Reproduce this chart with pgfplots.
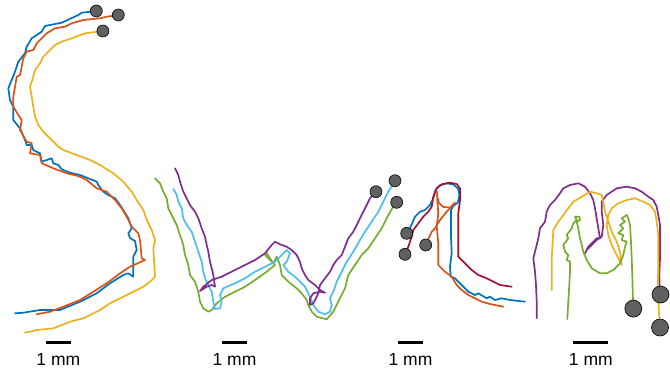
\documentclass[border=0pt]{standalone}
\usepackage{fontspec}
\setmainfont{Liberation Sans}
\usepackage{pgfplots}
\pgfplotsset{compat=1.18}
\definecolor{mblue}{HTML}{0072BD}
\definecolor{morange}{HTML}{D95319}
\definecolor{myellow}{HTML}{EDB120}
\definecolor{mpurple}{HTML}{7E2F8E}
\definecolor{mgreen}{HTML}{77AC30}
\definecolor{mcyan}{HTML}{4DBEEE}
\definecolor{mred}{HTML}{A2142F}
\definecolor{dotgray}{HTML}{606060}
\begin{document}
\begin{tikzpicture}
\begin{axis}[x=1pt, y=1pt, y dir=reverse, xmin=0, xmax=670, ymin=0, ymax=373,
  hide axis, clip=false, anchor=south west, at={(0,0)},
  every axis plot/.append style={line width=1.7pt, line join=round, line cap=round, mark=none}]
\path[draw=none] (rel axis cs:0,0) rectangle (rel axis cs:1,1);
% ---- S ----
\addplot[mblue] coordinates {(96.7,11)(81.7,12.7)(78.3,15)(61.7,22.7)(45,26)(41.7,31.7)(31.7,38.3)(26.7,46.7)(25,53.3)(18.3,61.7)(15,71.7)(11.7,80)(8.3,88.3)(10,100)(13.3,106.7)(13.3,120)(20,128.3)(25,140)(26.7,145)(31.7,145)(33.3,150)(40,153.3)(41.7,161.7)(51.7,158.3)(53.3,163.3)(58.3,165)(61.7,169.3)(70,172.7)(80,175)(88.3,178.3)(96.7,181.7)(98.3,185)(103.3,191.7)(108.3,195)(115,198.3)(120,205)(123.3,210)(128.3,218.3)(131.7,228.3)(128.3,233.3)(130,238)(135,241)(136.7,250)(133.3,256.7)(133.3,276.7)(128.3,273.3)(123.3,275)(110,283.3)(96.7,293.3)(80,301.7)(60,310)(40,310)(23.3,312.7)(15,313.3)};
\addplot[morange] coordinates {(118.3,15)(106.7,16.7)(100,18.3)(83.3,20)(71.7,23.3)(65,26.7)(55,28.3)(46.7,33.3)(41.7,38.3)(36.7,43.3)(33.3,50)(26.7,51.7)(23.3,58.3)(21.7,66.7)(20,75)(16.7,76.7)(15,86.7)(13.3,96.7)(13.3,106.7)(18.3,115)(21.7,120)(20,130)(26.7,141.7)(31.7,143.3)(30,153.3)(40,155)(41.7,163.3)(53.3,168.3)(66.7,173.3)(78.3,176)(86.7,180)(96.7,188.3)(106.7,191.7)(115,200)(121.7,208.3)(126.7,216.7)(131.7,226.7)(138.3,233.3)(140,240)(141.7,258.3)(145,260)(130,266.7)(120,273.3)(106.7,283.3)(93.3,291.7)(80,300)(63.3,306.7)(50,311.7)(36.7,314.3)};
\addplot[myellow] coordinates {(103.3,31)(85,33.3)(71.7,38.3)(61.7,41.7)(55,45)(50,50)(43.3,56.7)(40,63.3)(35,70)(33.3,76.7)(30,86.7)(31.7,96.7)(33.3,106.7)(35,116.7)(38.3,125)(43.3,131.7)(50,138.3)(58.3,146.7)(63.3,150)(76.7,155)(90,160)(100,165)(113.3,173.3)(123.3,181.7)(131.7,191.7)(136.7,200)(143.3,210)(146.7,220)(151.7,230)(155,240)(153.3,248.3)(155,276.7)(150,281.7)(143.3,286.7)(133.3,291.7)(123.3,296.7)(110,303.3)(100,310)(83.3,318.3)(70,321.7)(53.3,328.3)(36.7,330)(25,332.7)};
% ---- W ----
\addplot[mgreen] coordinates {(155,178.3)(160,183.3)(163.3,191.7)(166.7,198.3)(168.3,208.3)(171.7,215)(176.7,225)(180,235)(183.3,245)(185,255)(188.3,265)(190,275)(195,281.7)(198.3,291.7)(200,301.7)(203.3,308.3)(208.3,311.7)(211.7,310)(216.7,303.3)(225,296.7)(235,291.7)(245,286.7)(255,280)(266.7,271.7)(275,265)(270,260)(265,255)(266.7,253.3)(270,258.3)(273.3,263.3)(276.7,256.7)(280,265)(281.7,275)(288.3,281.7)(296.7,288.3)(301.7,293.3)(306.7,300)(308.3,305)(311.7,311.7)(316.7,316.7)(326.7,319.3)(333.3,311.7)(340,298.3)(345,288.3)(348.3,275)(355,265)(361.7,255)(368.3,248.3)(375,238.3)(381.7,228.3)(388.3,215)(393.3,206.7)(396.7,202.3)};
\addplot[mcyan] coordinates {(173.3,189)(176.7,195)(178.3,201.7)(181.7,208.3)(183.3,218.3)(186.7,225)(191.7,231.7)(195,241.7)(198.3,251.7)(201.7,261.7)(203.3,271.7)(205,278.3)(208.3,285)(211.7,291.7)(213.3,301.7)(215,309)(220,308.3)(221.7,301.7)(220,295)(223.3,288.3)(235,283.3)(245,278.3)(255,271.7)(265,266.7)(275,261.7)(281.7,255)(286.7,250)(290,253.3)(286.7,261.7)(283.3,265)(288.3,271.7)(296.7,278.3)(305,286.7)(310,296.7)(313.3,305)(318.3,311.7)(325,314.3)(330,311.7)(331.7,305)(330,298.3)(333.3,291.7)(336.7,281.7)(341.7,271.7)(346.7,261.7)(353.3,251.7)(360,240)(365,231.7)(371.7,221.7)(378.3,211.7)(383.3,201.7)(388.3,191.7)(395,180.7)};
\addplot[mpurple] coordinates {(175,168.3)(178.3,175)(180,181.7)(183.3,191.7)(186.7,198.3)(190,205)(195,211.7)(198.3,218.3)(201.7,228.3)(205,236.7)(206.7,245)(208.3,251.7)(210,261.7)(211.7,268.3)(213.3,275)(215,286.7)(211.7,285)(206.7,286.7)(200,291)(203.3,286.7)(211.7,280)(221.7,276.7)(235,270)(245,265)(255,260)(265,253.3)(271.7,245)(275,241.7)(280,244.3)(286.7,246.7)(291.7,250)(296.7,255)(300,261.7)(301.7,268.3)(305,275)(308.3,280)(315,285)(320,290)(325,292.7)(320,291.7)(313.3,293.3)(310,298.3)(310,305)(313.3,303.3)(318.3,293.3)(320,285)(325,278.3)(330,271.7)(333.3,265)(336.7,260)(341.7,255)(345,246.7)(348.3,238.3)(353.3,231.7)(356.7,225)(360,218.3)(363.3,211.7)(366.7,205)(370,198.3)(376,191.7)};
% ---- i ----
\addplot[mblue] coordinates {(406.7,233.3)(410,228.3)(415,216.7)(420,211.7)(425,210)(430,205)(433.3,198.3)(435.5,190)(439.5,185.5)(446.7,183.3)(453.5,184.5)(458,188.5)(459.5,195)(457.7,202.7)(453.3,206)(451,210)(451,223.3)(451,236.7)(451.7,253.3)(450,266.7)(450.7,276.7)(455,278.3)(461.7,285)(468.3,291.7)(475,295)(478.3,293.3)(486.7,298.3)(490,296.7)(495,300)(501.7,298.3)(510,300)(525,301.7)};
\addplot[mred] coordinates {(405,254.3)(408.3,246.7)(411.7,236.7)(413.3,230)(418.3,223.3)(423.3,216.7)(428.3,211.7)(431.7,206.7)(433.3,196.7)(436.7,188.3)(441.7,184.3)(450,182.7)(456.7,184)(460,188.3)(460,200)(458.3,213.3)(458.3,230)(458.3,243.3)(458.3,256.7)(465,263.3)(471.7,270)(478.3,275)(486.7,278.3)(493.3,281.7)(500,285)(511.7,286.7)};
\addplot[morange] coordinates {(425.7,245)(431.7,231.7)(435,228.3)(440,220)(446.7,211.7)(455,202.7)(450,207.5)(443.3,207)(439,203)(437,196)(437.3,191.7)(437.3,200)(438.3,213.3)(436.7,226.7)(438.3,243.3)(438.3,256.7)(438.3,265)(445,271.7)(451.7,276.7)(456.7,285)(461.7,290)(468.3,295)(475,298.3)(481.7,301.7)(490,304)(503.3,306.7)};
% ---- m ----
\addplot[mpurple] coordinates {(536.7,318.3)(536.7,301.7)(536,285)(535,271.7)(533.3,258.3)(535,251.7)(536.7,245)(538.3,238.3)(540,228.3)(545,221.7)(546.7,211.7)(550,205)(555,200)(560,193.3)(563.3,188.3)(570,185)(578.3,183.3)(585,186.7)(590,193.3)(593.3,200)(595,208.3)(596.7,218.3)(598.3,228.3)(600,238.3)(596.7,238.3)(591.7,243.3)(588.3,246.7)(585,253.3)(586.7,250)(591.7,245)(596.7,240)(601.7,236.7)(603.3,225)(601.7,211.7)(601.7,201.7)(606.7,195)(616.7,188.3)(626.7,186.7)(635,188.3)(641.7,191.7)(648.3,196.7)(653.3,200)(656.7,206.7)(658.3,215)(660,225)(660,241.7)(660,258.3)(659.3,275)(660,295)};
\addplot[myellow] coordinates {(551.7,290)(551.7,275)(551.7,258.3)(552.7,241.7)(553.3,230)(558.3,221.7)(563.3,215)(568.3,208.3)(573.3,201.7)(581.7,196.7)(590,191.7)(596.7,193.3)(601.7,195)(603.3,201.7)(605,211.7)(608.3,221.7)(611.7,231.7)(616.7,241.7)(620,251.7)(621.7,265)(618.3,258.3)(615,251.7)(611.7,245)(608.3,235)(606.7,225)(608.3,215)(611.7,208.3)(618.3,203.3)(626.7,200)(635,198.3)(643.3,201.7)(650,205)(655,211.7)(656.7,221.7)(658.3,235)(658.3,251.7)(658.3,268.3)(657.7,285)(658.3,301.7)(660,326.7)};
\addplot[mgreen] coordinates {(567.3,319)(568.3,301.7)(569.3,285)(570,271.7)(570,261.7)(566.7,260)(568.3,255)(565,251.7)(563.3,245)(568.3,238.3)(566.7,235)(571.7,228.3)(573.3,223.3)(576.7,220)(575,216.7)(579.3,216.7)(580,220)(576.7,221.7)(578.3,228.3)(580,238.3)(581.7,245)(583.3,251.7)(586.7,260)(591.7,268.3)(600,273.3)(606.7,273.3)(613.3,270)(620,263.3)(623.3,255)(625,246.7)(626.7,241.7)(621.7,240)(623.3,235)(618.3,233.3)(623.3,228.3)(620,225)(625,221.7)(621.7,218.3)(626.7,215)(628.3,218.3)(630,225)(631,241.7)(631.7,258.3)(632.3,275)(632.7,291.7)(633.3,308.3)};
% ---- start dots ----
\addplot[only marks, mark=*, mark size=6pt, draw=black, fill=dotgray, line width=0.6pt] coordinates {(96.3,11)(118.3,15)(102.9,31)(376,191.7)(395,180.7)(396.7,202.3)(406.7,233.3)(405,254.3)(425.7,245)};
\addplot[only marks, mark=*, mark size=8.5pt, draw=black, fill=dotgray, line width=0.6pt] coordinates {(633.3,308.6)(660.5,294.5)(660,327.5)};
% ---- scale bars ----
\addplot[black, line width=2.5pt, line cap=butt] coordinates {(46,342.7)(70.7,342.7)};
\addplot[black, line width=2.5pt, line cap=butt] coordinates {(222,342.7)(247,342.7)};
\addplot[black, line width=2.5pt, line cap=butt] coordinates {(398,342.7)(423,342.7)};
\addplot[black, line width=2.5pt, line cap=butt] coordinates {(573.3,342.7)(608.3,342.7)};
\node[font=\fontsize{17.5}{20}\selectfont] at (axis cs:58.3,359) {1 mm};
\node[font=\fontsize{17.5}{20}\selectfont] at (axis cs:234.5,359) {1 mm};
\node[font=\fontsize{17.5}{20}\selectfont] at (axis cs:410.5,359) {1 mm};
\node[font=\fontsize{17.5}{20}\selectfont] at (axis cs:590.8,359) {1 mm};
\end{axis}
\end{tikzpicture}
\end{document}
